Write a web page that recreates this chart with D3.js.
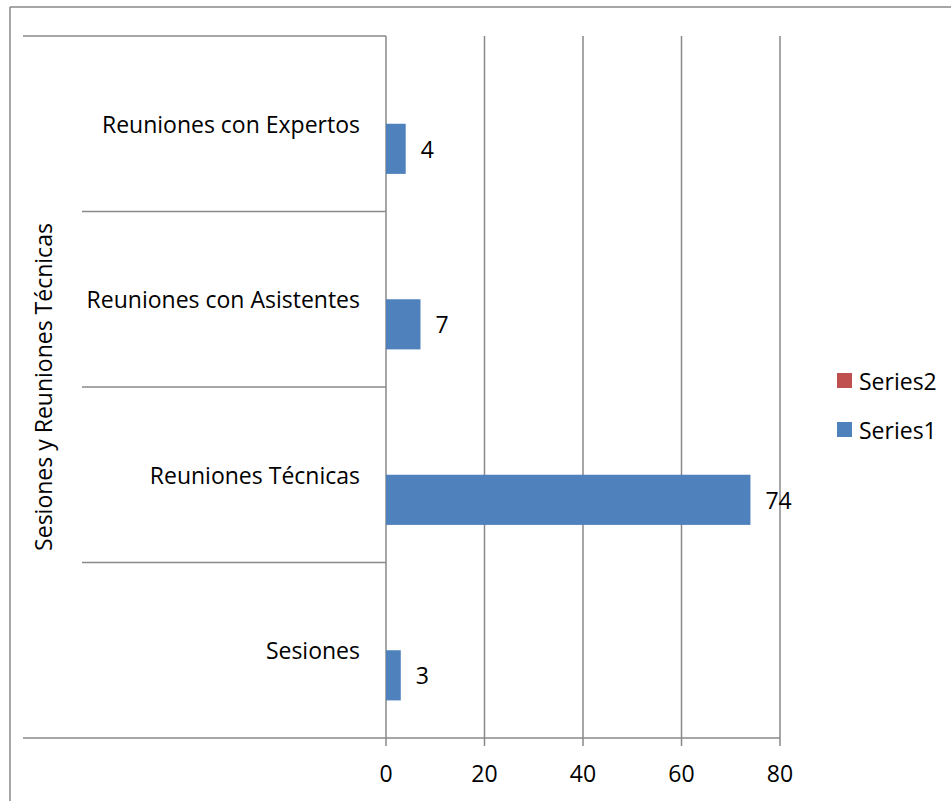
<!DOCTYPE html>
<html>
<head>
<meta charset="utf-8">
<script src="https://cdn.jsdelivr.net/npm/d3@7"></script>
<style>
  html, body { margin: 0; padding: 0; background: #fff; }
  svg text { font-family: "Open Sans", "Liberation Sans", sans-serif; fill: #000; }
</style>
</head>
<body>
<svg id="chart" width="951" height="801"></svg>
<script>
// ---- data ----
const categories = ["Sesiones", "Reuniones Técnicas", "Reuniones con Asistentes", "Reuniones con Expertos"];
const series1 = [3, 74, 7, 4];
const series2 = [0, 0, 0, 0];
const seriesNames = ["Series2", "Series1"];
const xTicks = [0, 20, 40, 60, 80];
const outerLabel = "Sesiones y Reuniones Técnicas";

const colors = { Series1: "#4F81BD", Series2: "#C0504D" };
const gridColor = "#898989";
const fontSize = 23;

const svg = d3.select("#chart");

// outer frame (top & left visible)
svg.append("line").attr("x1", 10).attr("x2", 951).attr("y1", 7).attr("y2", 7)
  .attr("stroke", gridColor).attr("stroke-width", 1.5);
svg.append("line").attr("x1", 10).attr("x2", 10).attr("y1", 7).attr("y2", 801)
  .attr("stroke", gridColor).attr("stroke-width", 1.5);

const plot = { left: 386, right: 780, top: 36, bottom: 738 };

const x = d3.scaleLinear().domain([0, 80]).range([plot.left, plot.right]);
// top to bottom: reversed category order
const y = d3.scaleBand().domain(categories.slice().reverse()).range([plot.top, plot.bottom]).padding(0);
const ySub = d3.scaleBand().domain(seriesNames).range([0, y.bandwidth()]).paddingInner(0).paddingOuter(0.75);

// vertical gridlines (with tick extension below)
svg.append("g").selectAll("line").data(xTicks).join("line")
  .attr("x1", d => x(d)).attr("x2", d => x(d))
  .attr("y1", plot.top).attr("y2", plot.bottom + 8)
  .attr("stroke", gridColor).attr("stroke-width", 1.5);

// horizontal axis line
svg.append("line").attr("x1", 23).attr("x2", plot.right).attr("y1", plot.bottom).attr("y2", plot.bottom)
  .attr("stroke", gridColor).attr("stroke-width", 1.5);
// top line of category axis
svg.append("line").attr("x1", 23).attr("x2", plot.left).attr("y1", plot.top).attr("y2", plot.top)
  .attr("stroke", gridColor).attr("stroke-width", 1.5);
// inner category separators
const seps = categories.slice().reverse().slice(1);
svg.append("g").selectAll("line").data(seps).join("line")
  .attr("x1", 82).attr("x2", plot.left)
  .attr("y1", d => y(d)).attr("y2", d => y(d))
  .attr("stroke", gridColor).attr("stroke-width", 1.5);

// bars
const rows = categories.map((c, i) => ({ cat: c, Series1: series1[i], Series2: series2[i] }));
seriesNames.forEach(s => {
  svg.append("g").selectAll("rect").data(rows).join("rect")
    .attr("x", x(0))
    .attr("y", d => y(d.cat) + ySub(s))
    .attr("width", d => x(d[s]) - x(0))
    .attr("height", ySub.bandwidth())
    .attr("fill", colors[s]);
});

// data labels (Series1)
svg.append("g").selectAll("text").data(rows).join("text")
  .attr("x", d => x(d.Series1) + 15)
  .attr("y", d => y(d.cat) + ySub("Series1") + ySub.bandwidth() / 2)
  .attr("dominant-baseline", "central")
  .attr("font-size", fontSize)
  .text(d => d.Series1);

// category labels
svg.append("g").selectAll("text").data(categories).join("text")
  .attr("x", 360)
  .attr("y", d => y(d) + y.bandwidth() / 2)
  .attr("text-anchor", "end")
  .attr("dominant-baseline", "central")
  .attr("font-size", fontSize)
  .text(d => d);

// outer level label (rotated)
svg.append("text")
  .attr("transform", `translate(43, ${(plot.top + plot.bottom) / 2}) rotate(-90)`)
  .attr("text-anchor", "middle")
  .attr("dominant-baseline", "central")
  .attr("font-size", fontSize)
  .text(outerLabel);

// x tick labels
svg.append("g").selectAll("text").data(xTicks).join("text")
  .attr("x", d => x(d))
  .attr("y", 773)
  .attr("text-anchor", "middle")
  .attr("dominant-baseline", "central")
  .attr("font-size", fontSize)
  .text(d => d);

// legend
const legendY = { Series2: 380.5, Series1: 429.5 };
const lg = svg.append("g");
seriesNames.forEach(s => {
  lg.append("rect").attr("x", 837).attr("y", legendY[s] - 7.5).attr("width", 15).attr("height", 15)
    .attr("fill", colors[s]);
  lg.append("text").attr("x", 859).attr("y", legendY[s])
    .attr("dominant-baseline", "central").attr("font-size", fontSize).text(s);
});
</script>
</body>
</html>
